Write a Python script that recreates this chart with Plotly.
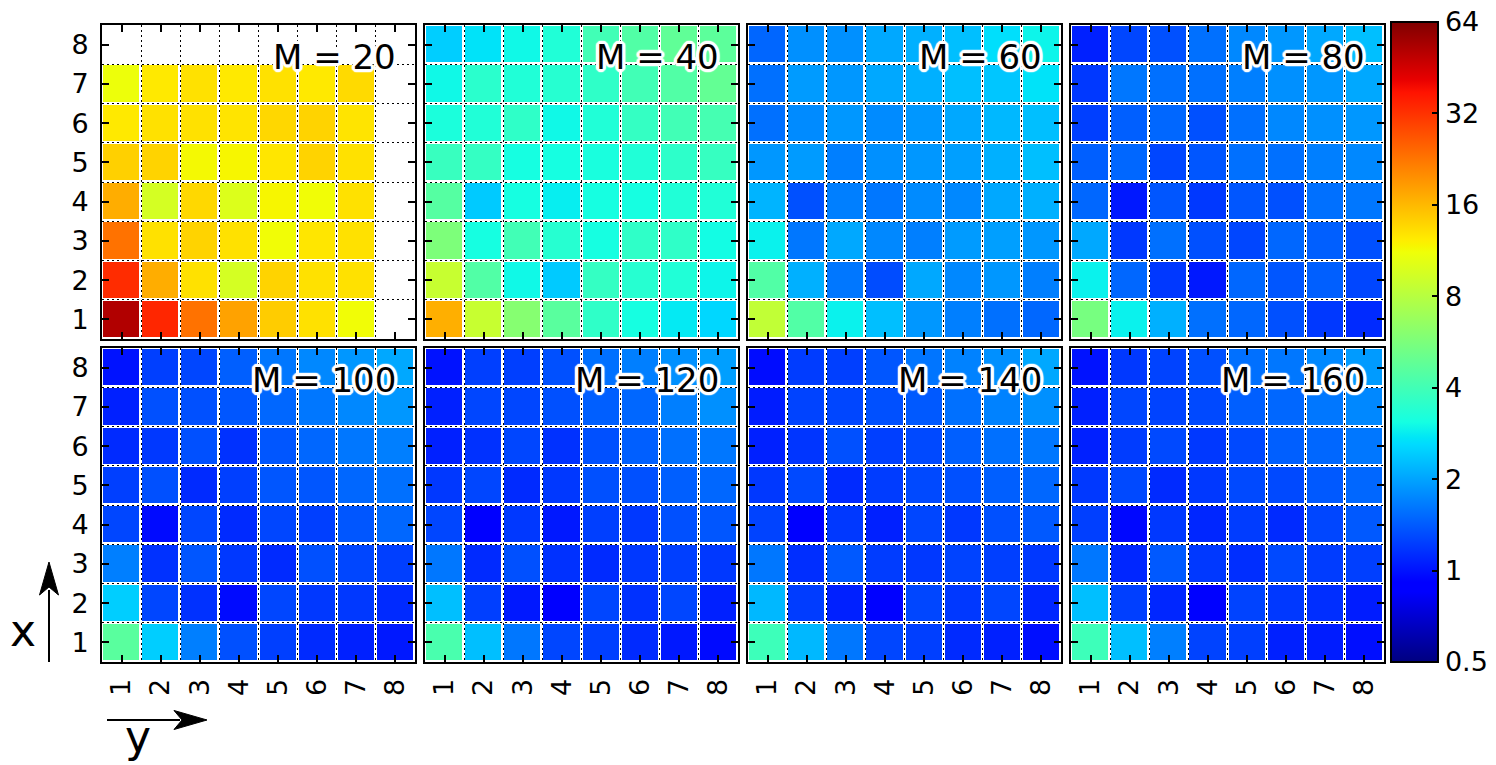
import numpy as np
import plotly.graph_objects as go

# Panel titles (M values) and axis tick labels
m_values = [20, 40, 60, 80, 100, 120, 140, 160]
grid_ticks = [1, 2, 3, 4, 5, 6, 7, 8]
cbar_ticks = [0.5, 1, 2, 4, 8, 16, 32, 64]

# Each panel: rows listed for x = 1 (bottom) ... 8 (top), columns y = 1 ... 8
m20 = [
    [52, 34, 23, 18, 14.5, 13, 11.3, None],
    [33, 17, 13, 9.5, 14, 13, 13, None],
    [23, 13, 14, 13, 11.3, 12.7, 13, None],
    [17, 9.5, 13.6, 10, 11.7, 11.3, 13, None],
    [14.2, 14, 11.5, 11.7, 12.7, 14, 13, None],
    [12.5, 13, 13, 12.8, 13.7, 14, 12.8, None],
    [11, 12.5, 13, 12.5, 13, 12.5, 13.5, None],
    [None, None, None, None, None, None, None, None],
]
m40 = [
    [16.8, 8.8, 6.0, 4.6, 3.6, 3.1, 2.8, 2.55],
    [8.8, 4.4, 3.0, 2.4, 3.7, 3.4, 3.3, 2.95],
    [5.7, 3.1, 4.0, 3.4, 3.1, 3.6, 3.6, 3.05],
    [4.5, 2.4, 3.1, 2.85, 3.1, 3.1, 3.3, 3.3],
    [3.8, 3.7, 3.1, 3.1, 3.15, 3.3, 3.55, 3.75],
    [3.2, 3.3, 3.6, 3.0, 3.3, 3.7, 4.0, 4.1],
    [3.0, 3.5, 3.3, 3.4, 3.6, 4.0, 4.4, 4.9],
    [2.45, 2.7, 3.0, 3.3, 4.0, 4.4, 4.8, 4.7],
]
m60 = [
    [8.5, 4.4, 2.9, 2.28, 1.88, 1.68, 1.56, 1.5],
    [4.4, 2.12, 1.62, 1.32, 2.04, 1.75, 1.88, 1.68],
    [2.9, 1.62, 2.04, 1.75, 1.68, 1.92, 1.96, 1.88],
    [2.16, 1.34, 1.68, 1.62, 1.78, 1.75, 2.04, 2.12],
    [1.88, 1.92, 1.68, 1.82, 1.88, 1.96, 2.12, 2.28],
    [1.56, 1.78, 1.88, 1.78, 1.88, 2.04, 2.2, 2.28],
    [1.56, 1.92, 1.88, 2.04, 2.12, 2.28, 2.36, 2.7],
    [1.49, 1.82, 1.82, 2.04, 2.12, 2.28, 2.65, 2.95],
]
m80 = [
    [5.5, 2.9, 2.12, 1.56, 1.5, 1.34, 1.2, 1.12],
    [2.9, 1.5, 1.2, 1.03, 1.5, 1.38, 1.44, 1.28],
    [2.04, 1.2, 1.56, 1.34, 1.28, 1.5, 1.44, 1.34],
    [1.5, 1.03, 1.38, 1.2, 1.38, 1.34, 1.56, 1.62],
    [1.44, 1.5, 1.28, 1.38, 1.56, 1.56, 1.68, 1.75],
    [1.24, 1.44, 1.5, 1.34, 1.56, 1.75, 1.82, 1.88],
    [1.2, 1.62, 1.56, 1.56, 1.68, 1.82, 1.88, 2.04],
    [1.07, 1.28, 1.34, 1.56, 1.75, 1.88, 2.04, 2.28],
]
m100 = [
    [4.6, 2.45, 1.68, 1.34, 1.24, 1.12, 1.07, 1.03],
    [2.45, 1.28, 1.16, 0.96, 1.28, 1.2, 1.2, 1.12],
    [1.68, 1.16, 1.38, 1.2, 1.12, 1.34, 1.28, 1.24],
    [1.28, 0.96, 1.28, 1.12, 1.28, 1.24, 1.38, 1.5],
    [1.24, 1.34, 1.12, 1.24, 1.38, 1.38, 1.5, 1.56],
    [1.12, 1.2, 1.34, 1.16, 1.38, 1.5, 1.62, 1.68],
    [1.07, 1.34, 1.34, 1.38, 1.5, 1.62, 1.75, 1.88],
    [1.0, 1.24, 1.28, 1.44, 1.62, 1.75, 1.88, 2.04],
]
m120 = [
    [4.2, 2.28, 1.62, 1.28, 1.24, 1.12, 1.03, 0.96],
    [2.28, 1.24, 1.03, 0.9, 1.28, 1.16, 1.28, 1.07],
    [1.62, 1.12, 1.34, 1.16, 1.12, 1.2, 1.24, 1.2],
    [1.28, 0.9, 1.2, 1.03, 1.24, 1.2, 1.34, 1.38],
    [1.2, 1.28, 1.12, 1.2, 1.34, 1.34, 1.44, 1.5],
    [1.07, 1.16, 1.28, 1.16, 1.34, 1.44, 1.56, 1.62],
    [1.07, 1.28, 1.28, 1.34, 1.44, 1.5, 1.68, 1.82],
    [1.0, 1.24, 1.24, 1.34, 1.56, 1.68, 1.82, 1.96],
]
m140 = [
    [3.9, 2.2, 1.62, 1.28, 1.24, 1.12, 1.07, 0.98],
    [2.2, 1.22, 1.07, 0.92, 1.28, 1.2, 1.28, 1.1],
    [1.62, 1.14, 1.4, 1.22, 1.2, 1.26, 1.24, 1.2],
    [1.26, 0.9, 1.2, 1.07, 1.28, 1.2, 1.34, 1.4],
    [1.2, 1.3, 1.12, 1.22, 1.3, 1.34, 1.44, 1.5],
    [1.07, 1.18, 1.34, 1.24, 1.3, 1.44, 1.56, 1.62],
    [1.05, 1.26, 1.28, 1.34, 1.4, 1.56, 1.7, 1.82],
    [0.97, 1.22, 1.24, 1.38, 1.6, 1.7, 1.82, 2.04],
]
m160 = [
    [3.9, 2.28, 1.68, 1.26, 1.24, 1.07, 1.05, 0.98],
    [2.28, 1.24, 1.1, 0.92, 1.26, 1.2, 1.14, 1.05],
    [1.62, 1.1, 1.4, 1.2, 1.14, 1.3, 1.22, 1.24],
    [1.24, 0.95, 1.2, 1.1, 1.22, 1.12, 1.28, 1.4],
    [1.2, 1.3, 1.12, 1.2, 1.3, 1.3, 1.4, 1.5],
    [1.07, 1.22, 1.3, 1.2, 1.3, 1.44, 1.5, 1.62],
    [1.07, 1.28, 1.26, 1.3, 1.44, 1.5, 1.62, 1.75],
    [1.0, 1.2, 1.26, 1.34, 1.56, 1.62, 1.75, 1.92],
]
panels = [m20, m40, m60, m80, m100, m120, m140, m160]

# matplotlib "jet" colormap built from its segment definition
_jet_seg = {
    "r": [(0, 0), (0.35, 0), (0.66, 1), (0.89, 1), (1, 0.5)],
    "g": [(0, 0), (0.125, 0), (0.375, 1), (0.64, 1), (0.91, 0), (1, 0)],
    "b": [(0, 0.5), (0.11, 1), (0.34, 1), (0.65, 0), (1, 0)],
}
_stops = sorted({p for seg in _jet_seg.values() for p, _ in seg})
jet = []
for s in _stops:
    rgb = [np.interp(s, [p for p, _ in _jet_seg[c]], [v for _, v in _jet_seg[c]]) for c in "rgb"]
    jet.append([s, "rgb(%d,%d,%d)" % tuple(round(255 * v) for v in rgb)])

W, H = 1496, 765
FONT = "DejaVu Sans"


def px_x(v):
    return v / W


def px_y(v):
    return 1 - v / H


col_left = [102, 425, 748, 1071]
panel_w = 313
row_top = [25, 348]
panel_h = 314

# white halo around the panel labels
_halo = ", ".join(
    "white %dpx %dpx 1px" % (dx, dy)
    for dx, dy in [(3, 0), (-3, 0), (0, 3), (0, -3), (2, 2), (-2, -2), (2, -2), (-2, 2),
                   (3, 1), (-3, 1), (3, -1), (-3, -1), (1, 3), (1, -3), (-1, 3), (-1, -3)]
)

fig = go.Figure()
minor_vals = [t - 0.5 for t in grid_ticks] + [grid_ticks[-1] + 0.5]

for i, (m, data) in enumerate(zip(m_values, panels)):
    r, c = divmod(i, 4)
    idx = "" if i == 0 else str(i + 1)
    z = [[None if v is None else float(np.log2(v)) for v in row] for row in data]
    fig.add_trace(go.Heatmap(
        z=z, x=grid_ticks, y=grid_ticks, coloraxis="coloraxis",
        xgap=3, ygap=3, xaxis="x" + idx, yaxis="y" + idx, hoverinfo="skip",
    ))
    axis_common = dict(
        range=[0.5, 8.5], tickvals=grid_ticks, ticks="inside", ticklen=7,
        tickwidth=1.5, tickcolor="black", showline=True, linecolor="black",
        linewidth=2, mirror="ticks", showgrid=False, zeroline=False,
        tickfont=dict(family=FONT, size=27, color="black"),
        minor=dict(tickvals=minor_vals, showgrid=True, gridcolor="black",
                   gridwidth=1, griddash="2px,3px", ticklen=0),
        fixedrange=True,
    )
    xd = [px_x(col_left[c]), px_x(col_left[c] + panel_w)]
    yd = [px_y(row_top[r] + panel_h), px_y(row_top[r])]
    fig.layout["xaxis" + idx] = dict(
        axis_common, domain=xd, anchor="y" + idx,
        showticklabels=(r == 1), tickangle=-90, ticklabelstandoff=4,
    )
    fig.layout["yaxis" + idx] = dict(
        axis_common, domain=yd, anchor="x" + idx,
        showticklabels=(c == 0), ticklabelstandoff=6,
    )
    fig.add_annotation(
        text="M = %d" % m, xref="x%s domain" % idx, yref="y%s domain" % idx,
        x=1, y=1, xanchor="right", yanchor="middle", xshift=-17, yshift=-32,
        showarrow=False,
        font=dict(family=FONT, size=34, color="black", shadow=_halo),
    )

fig.update_layout(
    coloraxis=dict(
        colorscale=jet, cmin=np.log2(cbar_ticks[0]), cmax=np.log2(cbar_ticks[-1]),
        colorbar=dict(
            tickvals=[float(np.log2(t)) for t in cbar_ticks],
            ticktext=[("%g" % t) for t in cbar_ticks],
            ticks="inside", ticklen=7, tickwidth=1.5, tickcolor="black",
            outlinecolor="black", outlinewidth=2,
            thickness=47, thicknessmode="pixels",
            len=(662 - 22) / H, lenmode="fraction",
            x=px_x(1391), xanchor="left", xpad=0,
            y=px_y((22 + 662) / 2), yanchor="middle", ypad=0,
            tickfont=dict(family=FONT, size=27, color="black"),
        ),
    ),
    width=W, height=H, margin=dict(l=0, r=0, t=0, b=0),
    paper_bgcolor="white", plot_bgcolor="white", showlegend=False,
)

# axis direction labels and arrows
fig.add_annotation(text="x", xref="paper", yref="paper", x=px_x(23), y=px_y(630),
                   xanchor="center", yanchor="middle",
                   showarrow=False, font=dict(family=FONT, size=44, color="black"))
fig.add_annotation(text="y", xref="paper", yref="paper", x=px_x(138), y=px_y(736),
                   xanchor="center", yanchor="middle",
                   showarrow=False, font=dict(family=FONT, size=44, color="black"))


def arrow_head(tip, direction):
    tx, ty = tip
    if direction == "up":
        pts = [(tx, ty), (tx - 9.5, ty + 33), (tx, ty + 25), (tx + 9.5, ty + 33)]
    else:
        pts = [(tx, ty), (tx - 33, ty - 9.5), (tx - 25, ty), (tx - 33, ty + 9.5)]
    path = "M " + " L ".join("%f,%f" % (px_x(a), px_y(b)) for a, b in pts) + " Z"
    return dict(type="path", xref="paper", yref="paper", path=path,
                fillcolor="black", line=dict(color="black", width=1))


fig.add_shape(type="line", xref="paper", yref="paper",
              x0=px_x(49), y0=px_y(662), x1=px_x(49), y1=px_y(590),
              line=dict(color="black", width=2))
fig.add_shape(**arrow_head((49, 562), "up"))
fig.add_shape(type="line", xref="paper", yref="paper",
              x0=px_x(107), y0=px_y(720), x1=px_x(180), y1=px_y(720),
              line=dict(color="black", width=2))
fig.add_shape(**arrow_head((207, 720), "right"))

fig.write_html("out.html")
